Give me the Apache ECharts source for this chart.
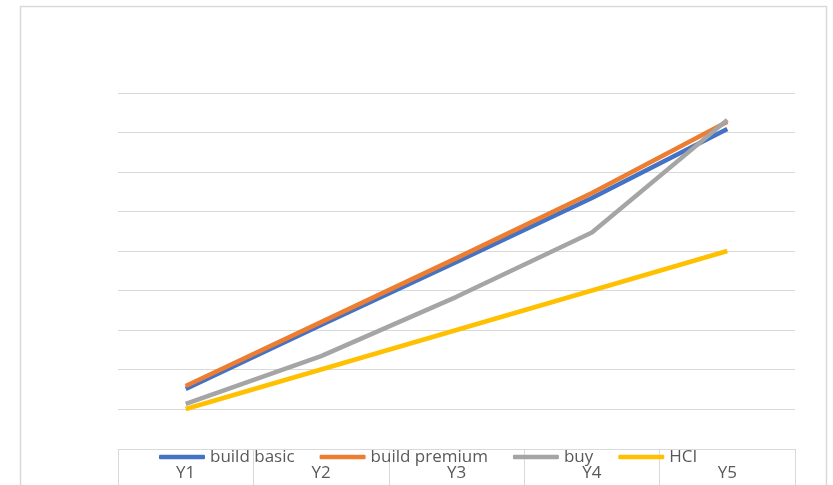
<!DOCTYPE html>
<html>
<head>
<meta charset="utf-8">
<script src="https://cdn.jsdelivr.net/npm/echarts@6/dist/echarts.min.js"></script>
<style>
html,body{margin:0;padding:0;background:#fff;}
#chart{width:833px;height:485px;}
</style>
</head>
<body>
<div id="chart"></div>
<script>
const categories = ['Y1', 'Y2', 'Y3', 'Y4', 'Y5'];
const buildBasic = [0.51, 2.13, 3.72, 5.34, 7.09];
const buildPremium = [0.58, 2.2, 3.82, 5.47, 7.27];
const buy = [0.13, 1.34, 2.84, 4.47, 7.32];
const hci = [0, 1, 2, 3, 4];
const seriesNames = ['build basic', 'build premium', 'buy', 'HCI'];
const seriesColors = ['#4472C4', '#ED7D31', '#A5A5A5', '#FFC000'];
const seriesData = [buildBasic, buildPremium, buy, hci];

const chart = echarts.init(document.getElementById('chart'));
const FONT = 'Open Sans';
chart.setOption({
  animation: false,
  backgroundColor: '#fff',
  textStyle: { fontFamily: FONT },
  graphic: [{
    type: 'rect', silent: true, z: -1,
    shape: { x: 20.5, y: 6.5, width: 806, height: 520 },
    style: { fill: 'none', stroke: '#d9d9d9', lineWidth: 1.5 }
  }],
  legend: {
    left: 159, top: 447,
    padding: 0,
    icon: 'roundRect',
    itemWidth: 46, itemHeight: 4.5,
    itemGap: 25,
    textStyle: { color: '#595959', fontSize: 17, fontFamily: FONT, lineHeight: 20 },
    data: seriesNames
  },
  grid: [
    { left: 118, right: 38, top: 93, bottom: 76 },
    { left: 118, right: 38, top: 449, bottom: 0 }
  ],
  xAxis: [
    {
      type: 'category', gridIndex: 0, data: categories, boundaryGap: true,
      axisLine: { show: false }, axisTick: { show: false }, axisLabel: { show: false }
    },
    {
      type: 'category', gridIndex: 1, data: categories, boundaryGap: true, position: 'top',
      axisLine: { show: true, onZero: false, lineStyle: { color: '#d9d9d9', width: 1 } },
      axisTick: { show: true, inside: true, length: 45, interval: 0, lineStyle: { color: '#d9d9d9', width: 1 } },
      axisLabel: { show: true, inside: true, margin: 16, interval: 0, color: '#595959', fontSize: 17, fontFamily: FONT }
    }
  ],
  yAxis: [
    {
      type: 'value', gridIndex: 0, min: 0, max: 8, interval: 1,
      axisLine: { show: false }, axisTick: { show: false }, axisLabel: { show: false },
      splitLine: { show: true, lineStyle: { color: '#d9d9d9', width: 1.2 } }
    },
    { type: 'value', gridIndex: 1, show: false, min: 0, max: 1, splitLine: { show: false } }
  ],
  series: seriesNames.map((name, i) => ({
    name: name,
    type: 'line',
    xAxisIndex: 0, yAxisIndex: 0,
    data: seriesData[i],
    symbol: 'none',
    color: seriesColors[i],
    lineStyle: { color: seriesColors[i], width: 4.5 },
    z: 2 + i
  }))
});
</script>
</body>
</html>
